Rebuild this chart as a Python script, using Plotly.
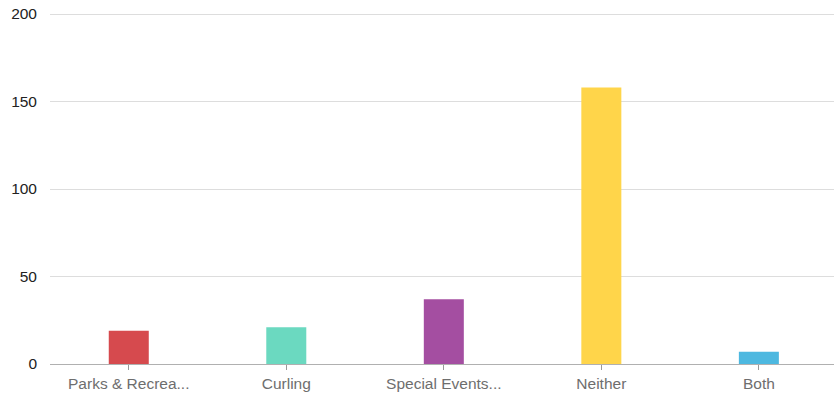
import plotly.graph_objects as go

categories = ["Parks & Recrea...", "Curling", "Special Events...", "Neither", "Both"]
values = [19, 21, 37, 158, 7]
colors = ["#d64a4e", "#6bd9c0", "#a44ea1", "#ffd54a", "#4db8e0"]
y_ticks = [0, 50, 100, 150, 200]

fig = go.Figure(go.Bar(
    x=categories, y=values,
    marker=dict(color=colors, line=dict(width=0)),
    width=0.254,
))

fig.update_layout(
    width=834, height=401,
    margin=dict(l=50, r=0, t=13, b=37, autoexpand=False),
    paper_bgcolor="white", plot_bgcolor="white",
    font=dict(family="Liberation Sans, Arial, sans-serif", size=15.5),
    showlegend=False,
)
fig.update_xaxes(
    showgrid=False, showline=True, linecolor="#b0b0b0", linewidth=1,
    ticks="outside", ticklen=5, tickcolor="#999999",
    tickfont=dict(color="#6e6e6e", size=15.5),
    range=[-0.5, 4.477], automargin=False,
)
fig.update_yaxes(
    range=[0, 200.6], tickvals=y_ticks, showgrid=True, gridcolor="#dddddd",
    zeroline=False, showline=False,
    tickfont=dict(color="#222222", size=15.5),
    ticklabelstandoff=12, automargin=False,
)
fig.write_html("out.html", config={"displayModeBar": False},
               post_script="document.body.style.margin='0';")
